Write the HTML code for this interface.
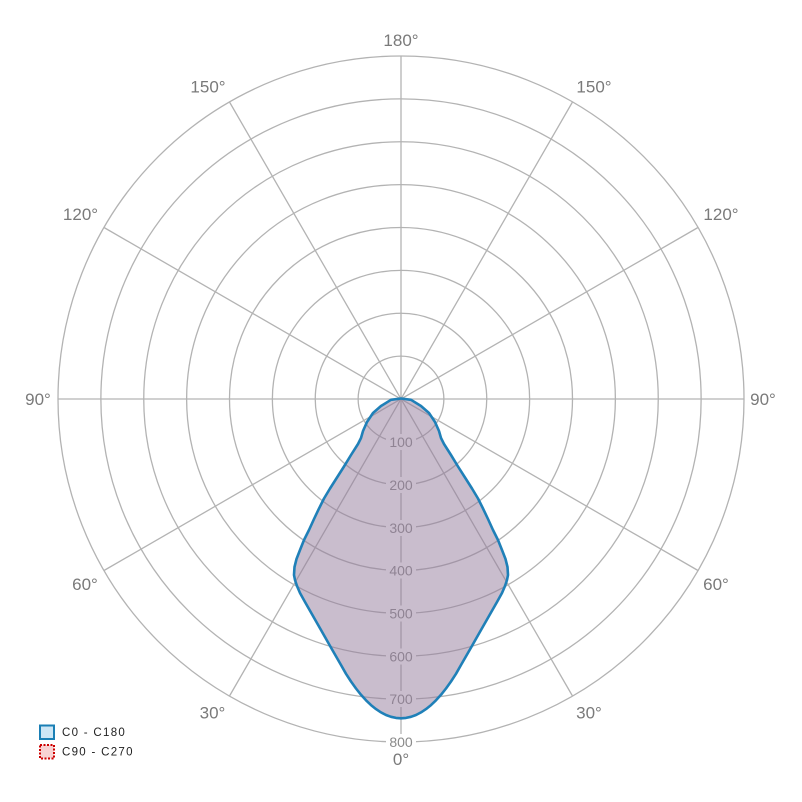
<!DOCTYPE html>
<html>
<head>
<meta charset="utf-8">
<style>
  html,body{margin:0;padding:0;background:#fff;}
  svg{display:block;}
  .ang{font-family:"Liberation Sans",sans-serif;font-size:17px;fill:#7a7a7a;}
  .rad{font-family:"Liberation Sans",sans-serif;font-size:14px;fill:#8a8a8a;}
  .leg{font-family:"Liberation Sans",sans-serif;font-size:11.5px;fill:#222;letter-spacing:1.3px;}
</style>
</head>
<body>
<svg width="802" height="802" viewBox="0 0 802 802" xmlns="http://www.w3.org/2000/svg">
  <rect width="802" height="802" fill="#fff"/>
  <g fill="none" stroke="#b3b3b3" stroke-width="1.3">
    <circle cx="401" cy="399" r="42.875"/>
    <circle cx="401" cy="399" r="85.75"/>
    <circle cx="401" cy="399" r="128.625"/>
    <circle cx="401" cy="399" r="171.5"/>
    <circle cx="401" cy="399" r="214.375"/>
    <circle cx="401" cy="399" r="257.25"/>
    <circle cx="401" cy="399" r="300.125"/>
    <circle cx="401" cy="399" r="343"/>
    <line x1="401" y1="56" x2="401" y2="742"/>
    <line x1="58" y1="399" x2="744" y2="399"/>
    <line x1="229.5" y1="102" x2="572.5" y2="696"/>
    <line x1="572.5" y1="102" x2="229.5" y2="696"/>
    <line x1="104" y1="227.5" x2="698" y2="570.5"/>
    <line x1="698" y1="227.5" x2="104" y2="570.5"/>
  </g>
  <!-- radial label backgrounds -->
  <g fill="#fff">
    <rect x="386" y="434" width="30" height="16"/>
    <rect x="386" y="477" width="30" height="16"/>
    <rect x="386" y="520" width="30" height="16"/>
    <rect x="386" y="562.5" width="30" height="16"/>
    <rect x="386" y="605.5" width="30" height="16"/>
    <rect x="386" y="648.5" width="30" height="16"/>
    <rect x="386" y="691" width="30" height="16"/>
    <rect x="386" y="734" width="30" height="16"/>
  </g>
  <g class="rad" text-anchor="middle">
    <text x="401" y="447">100</text>
    <text x="401" y="490">200</text>
    <text x="401" y="533">300</text>
    <text x="401" y="575.5">400</text>
    <text x="401" y="618.5">500</text>
    <text x="401" y="661.5">600</text>
    <text x="401" y="704">700</text>
    <text x="401" y="747">800</text>
  </g>
  <!-- series -->
  <path d="M401,398.5 L411,399.8 L421,406 L429,413 L435,422 L439,431 L441,438 L444,444 L451,455 L458,466.5 L465,477.5 L472,488.5 L478,498.5 L483,508.5 L488,519 L493,530 L498,540 L502,550 L505.5,559 L507.5,567 L508,575 L507,580 L505,586 L502,593 L497,602 L489,616 L481,630 L471,647.6 L461,665 L456,673.8 L451,681.5 L446,688.5 L441,694.8 L436,700.3 L431,705.1 L426,709.1 L421,712.4 L416,715 L411,716.8 L406,717.9 L401,718.3 L396,717.9 L391,716.8 L386,715 L381,712.4 L376,709.1 L371,705.1 L366,700.3 L361,694.8 L356,688.5 L351,681.5 L346,673.8 L341,665 L331,647.6 L321,630 L313,616 L305,602 L300,593 L297,586 L295,580 L294,575 L294.5,567 L296.5,559 L300,550 L304,540 L309,530 L314,519 L319,508.5 L324,498.5 L330,488.5 L337,477.5 L344,466.5 L351,455 L358,444 L361,438 L363,431 L367,422 L373,413 L381,406 L391,399.8 Z"
        fill="rgb(148,124,155)" fill-opacity="0.5" stroke="#1f80b8" stroke-width="2.6" stroke-linejoin="round"/>
  <!-- angle labels -->
  <g class="ang" text-anchor="middle">
    <text x="401" y="46">180°</text>
    <text x="208" y="92.5">150°</text>
    <text x="594" y="92.5">150°</text>
    <text x="80.5" y="220">120°</text>
    <text x="721" y="220">120°</text>
    <text x="38" y="405">90°</text>
    <text x="763" y="405">90°</text>
    <text x="85" y="590">60°</text>
    <text x="716" y="590">60°</text>
    <text x="212.5" y="718.5">30°</text>
    <text x="589" y="718.5">30°</text>
    <text x="401" y="765">0°</text>
  </g>
  <!-- legend -->
  <rect x="40" y="725.5" width="14" height="13.5" fill="#cde6f5" stroke="#1a7fb5" stroke-width="2"/>
  <text class="leg" x="62" y="736">C0 - C180</text>
  <rect x="40" y="745" width="14" height="13.5" fill="#f8d2d2" stroke="#cc0000" stroke-width="2" stroke-dasharray="2,1.5"/>
  <text class="leg" x="62" y="755.5">C90 - C270</text>
</svg>
</body>
</html>
